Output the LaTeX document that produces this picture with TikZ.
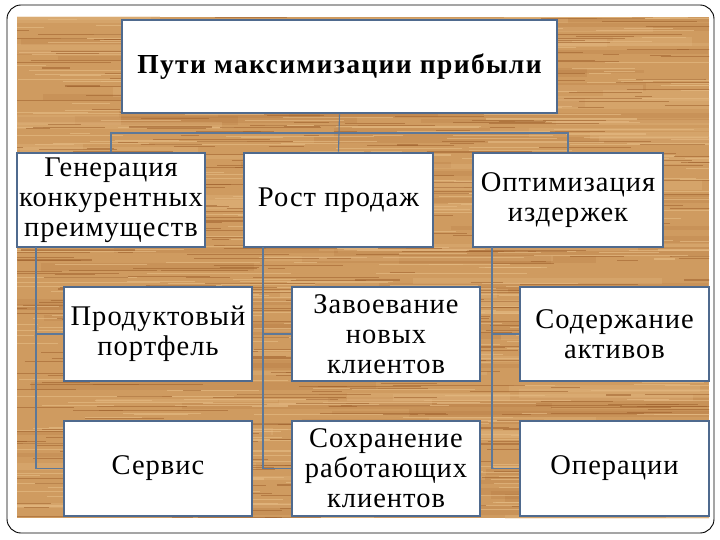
\documentclass[tikz,border=0pt]{standalone}
\usepackage{fontspec}
\setmainfont{Liberation Serif}
\newfontfamily\boxfont[LetterSpace=3.5]{Liberation Serif}
\newfontfamily\titlefont[LetterSpace=5]{Liberation Serif}
\definecolor{woodbase}{HTML}{CF9B60}
\definecolor{woodlight}{HTML}{E4B982}
\definecolor{wooddark}{HTML}{9E602C}
\definecolor{boxline}{HTML}{4F6A8E}
\definecolor{connline}{HTML}{5D7898}
\begin{document}
\begin{tikzpicture}[x=1pt,y=-1pt,
  box/.style={draw=boxline,line width=2.6pt,fill=white,inner sep=0pt,align=center,
    font=\boxfont\fontsize{28.5}{30}\selectfont},
  conn/.style={draw=connline,line width=1.1pt}]
\useasboundingbox (0,0) rectangle (720,540);
\fill[white] (0,0) rectangle (720,540);
% wood background
\begin{scope}
\clip (17,17) rectangle (709,518);
\fill[woodbase] (17,17) rectangle (709,518);
\pgfmathsetseed{11}
\foreach \i in {1,...,60}{
  \pgfmathsetmacro{\xa}{rnd*709-100}
  \pgfmathsetmacro{\ya}{17+rnd*501}
  \pgfmathsetmacro{\len}{150+rnd*300}
  \pgfmathsetmacro{\w}{3+rnd*7}
  \draw[wooddark,line width=\w pt,opacity=0.14] (\xa,\ya) -- ++(\len,0);
}
\foreach \i in {1,...,60}{
  \pgfmathsetmacro{\xa}{rnd*709-100}
  \pgfmathsetmacro{\ya}{17+rnd*501}
  \pgfmathsetmacro{\len}{150+rnd*300}
  \pgfmathsetmacro{\w}{3+rnd*7}
  \draw[woodlight,line width=\w pt,opacity=0.3] (\xa,\ya) -- ++(\len,0);
}
\foreach \i in {1,...,500}{
  \pgfmathsetmacro{\xa}{rnd*709-20}
  \pgfmathsetmacro{\ya}{17+rnd*501}
  \pgfmathsetmacro{\len}{20+rnd*140}
  \pgfmathsetmacro{\w}{0.3+rnd*0.9}
  \draw[woodlight,line width=\w pt,opacity=0.7] (\xa,\ya) -- ++(\len,0);
}
\foreach \i in {1,...,550}{
  \pgfmathsetmacro{\xa}{rnd*709-20}
  \pgfmathsetmacro{\ya}{17+rnd*501}
  \pgfmathsetmacro{\len}{15+rnd*120}
  \pgfmathsetmacro{\w}{0.3+rnd*1.0}
  \draw[wooddark,line width=\w pt,opacity=0.55] (\xa,\ya) -- ++(\len,0);
}
\end{scope}
% frame
\draw[black,line width=0.9pt,rounded corners=14pt] (7,5) rectangle (714,533);
% connector helper points
\coordinate (hb) at (339.5,133);
\coordinate (gv) at (36,247);
\coordinate (rv) at (263,247);
\coordinate (ov) at (492,247);
% boxes
\node[box,minimum width=435pt,minimum height=93pt,font=\titlefont\bfseries\fontsize{27.5}{30}\selectfont] (top) at (339.5,66.5) {Пути максимизации прибыли};
\node[box,minimum width=188pt,minimum height=94pt] (gen) at (111,200) {Генерация\\конкурентных\\преимуществ};
\node[box,minimum width=189pt,minimum height=94pt] (rost) at (338.5,200) {Рост продаж};
\node[box,minimum width=190pt,minimum height=94pt] (opt) at (568,200) {Оптимизация\\издержек};
\node[box,minimum width=188pt,minimum height=94pt] (prod) at (158,334) {Продуктовый\\портфель};
\node[box,minimum width=188pt,minimum height=95pt] (serv) at (158,468.5) {Сервис};
\node[box,minimum width=188pt,minimum height=94pt] (zav) at (386,334) {Завоевание\\новых\\клиентов};
\node[box,minimum width=188pt,minimum height=95pt] (sohr) at (386,468.5) {Сохранение\\работающих\\клиентов};
\node[box,minimum width=189pt,minimum height=94pt] (sod) at (614.5,334) {Содержание\\активов};
\node[box,minimum width=189pt,minimum height=95pt] (oper) at (614.5,468.5) {Операции};
% connectors
\draw[conn] (top.south) -- (rost.north);
\draw[conn] (gen.north) |- (opt.north |- hb) -- (opt.north);
\draw[conn] (gv) |- (prod.west);
\draw[conn] (gv) |- (serv.west);
\draw[conn] (rv) |- (zav.west);
\draw[conn] (rv) |- (sohr.west);
\draw[conn] (ov) |- (sod.west);
\draw[conn] (ov) |- (oper.west);
\end{tikzpicture}
\end{document}
